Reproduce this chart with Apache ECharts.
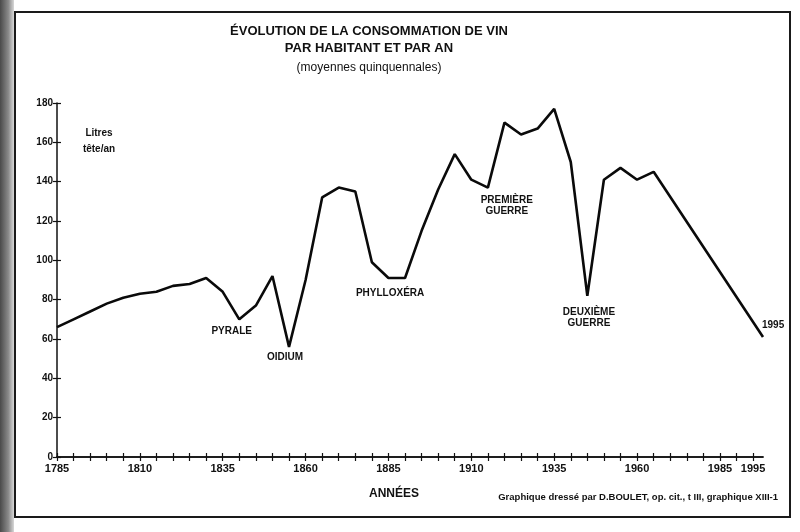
<!DOCTYPE html>
<html>
<head>
<meta charset="utf-8">
<script src="https://cdn.jsdelivr.net/npm/echarts@6/dist/echarts.min.js"></script>
<style>
html,body{margin:0;padding:0;background:#fff;}
#chart{width:800px;height:532px;}
</style>
</head>
<body>
<div id="chart"></div>
<script>
// ---- data ----
const years  = [1785,1790,1795,1800,1805,1810,1815,1820,1825,1830,1835,1840,1845,1850,1855,1860,1865,1870,1875,1880,1885,1890,1895,1900,1905,1910,1915,1920,1925,1930,1935,1940,1945,1950,1955,1960,1965,1998];
const litres = [66,70,74,78,81,83,84,87,88,91,84,70,77,92,56,90,132,137,135,99,91,91,115,136,154,141,137,170,164,167,177,150,82,141,147,141,145,61];
const xTickValues  = [1785,1790,1795,1800,1805,1810,1815,1820,1825,1830,1835,1840,1845,1850,1855,1860,1865,1870,1875,1880,1885,1890,1895,1900,1905,1910,1915,1920,1925,1930,1935,1940,1945,1950,1955,1960,1965,1970,1975,1980,1985,1990,1995];
const xLabelValues = [1785,1810,1835,1860,1885,1910,1935,1960,1985,1995];
const annotNames  = ['PYRALE','OIDIUM','PHYLLOXÉRA','PREMIÈRE\nGUERRE','DEUXIÈME\nGUERRE'];
const annotYears  = [1837.7,1853.8,1885.5,1920.7,1945.5];
const annotValues = [63.8,50.7,83.3,127.7,70.7];
const endLabelText = '1995';

const FONT = '"Liberation Sans", Arial, sans-serif';
const seriesData = years.map((y,i)=>[y, litres[i]]);

const chart = echarts.init(document.getElementById('chart'), null, {renderer:'canvas'});
const axisBase = {
  type:'value', min:1785, max:1998,
  splitLine:{show:false},
  axisLine:{show:true, lineStyle:{color:'#111', width:1.5}}
};
chart.setOption({
  backgroundColor:'#fff',
  animation:false,
  grid:{left:57, right:37, top:103, bottom:75},
  xAxis:[
    Object.assign({}, axisBase, {
      position:'bottom',
      axisTick:{show:true, length:4, customValues:xTickValues, lineStyle:{color:'#111', width:1.2}},
      axisLabel:{show:true, customValues:xLabelValues, margin:6, color:'#111',
        fontFamily:FONT, fontWeight:'bold', fontSize:11, formatter:v=>String(v)}
    }),
    Object.assign({}, axisBase, {
      position:'bottom',
      axisTick:{show:true, inside:true, length:4, customValues:xTickValues, lineStyle:{color:'#111', width:1.2}},
      axisLabel:{show:false}
    })
  ],
  yAxis:[
    {type:'value', min:0, max:180, interval:20,
     splitLine:{show:false},
     axisLine:{show:true, lineStyle:{color:'#111', width:1.5}},
     axisTick:{show:true, length:4, lineStyle:{color:'#111', width:1.2}},
     axisLabel:{margin:4, color:'#111', fontFamily:FONT, fontWeight:'bold', fontSize:10}
    },
    {type:'value', min:0, max:180, interval:20, position:'left',
     splitLine:{show:false},
     axisLine:{show:false},
     axisTick:{show:true, inside:true, length:4, lineStyle:{color:'#111', width:1.2}},
     axisLabel:{show:false}
    }
  ],
  series:[{
    type:'line',
    data:seriesData,
    symbol:'none',
    clip:false,
    lineStyle:{color:'#0a0a0a', width:2.6},
    endLabel:{show:true, formatter:endLabelText, distance:0, offset:[-1,-12],
      color:'#111', fontFamily:FONT, fontWeight:'bold', fontSize:10},
    markPoint:{
      symbol:'circle', symbolSize:0,
      label:{show:true, position:'inside', color:'#111', fontFamily:FONT,
        fontWeight:'bold', fontSize:10, lineHeight:11,
        formatter:p=>p.name},
      data: annotNames.map((n,i)=>({name:n, coord:[annotYears[i], annotValues[i]]}))
    }
  }],
  graphic:[
    {type:'rect', z:-10, shape:{x:0,y:0,width:14,height:532},
     style:{fill:new echarts.graphic.LinearGradient(0,0,1,0,[
       {offset:0,color:'#4a4a4a'},{offset:0.6,color:'#8a8a8a'},{offset:1,color:'#d8d8d8'}])}},
    {type:'rect', z:-5, shape:{x:15,y:12,width:775,height:505},
     style:{fill:'none', stroke:'#1a1a1a', lineWidth:2}},
    {type:'text', x:369, y:31,
     style:{text:'ÉVOLUTION DE LA CONSOMMATION DE VIN', fill:'#111',
       font:'bold 13px '+FONT, align:'center', verticalAlign:'middle'}},
    {type:'text', x:369, y:48,
     style:{text:'PAR HABITANT ET PAR AN', fill:'#111',
       font:'bold 13px '+FONT, align:'center', verticalAlign:'middle'}},
    {type:'text', x:369, y:68,
     style:{text:'(moyennes quinquennales)', fill:'#111',
       font:'12px '+FONT, align:'center', verticalAlign:'middle'}},
    {type:'text', x:99, y:133,
     style:{text:'Litres', fill:'#111', font:'bold 10px '+FONT, align:'center', verticalAlign:'middle'}},
    {type:'text', x:99, y:149,
     style:{text:'tête/an', fill:'#111', font:'bold 10px '+FONT, align:'center', verticalAlign:'middle'}},
    {type:'text', x:394, y:494,
     style:{text:'ANNÉES', fill:'#111', font:'bold 12px '+FONT, align:'center', verticalAlign:'middle'}},
    {type:'text', x:778, y:497,
     style:{text:'Graphique dressé par D.BOULET, op. cit., t III, graphique XIII-1', fill:'#111',
       font:'bold 9.5px '+FONT, align:'right', verticalAlign:'middle'}}
  ]
});
</script>
</body>
</html>
